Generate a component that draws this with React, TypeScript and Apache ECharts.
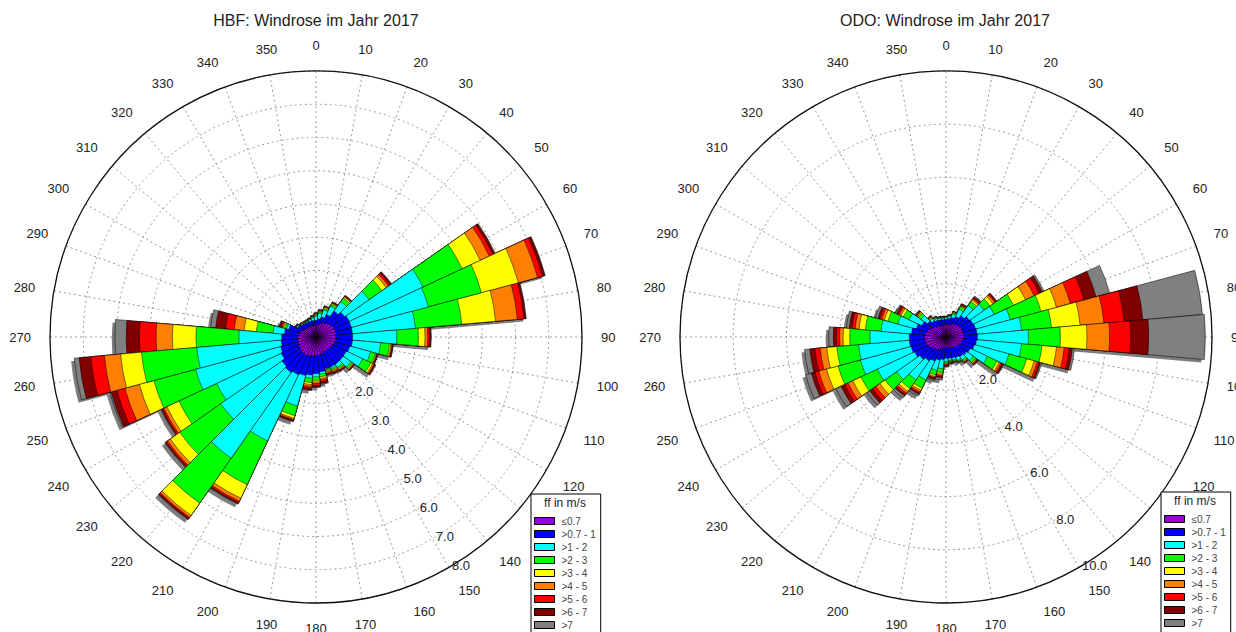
import React, { useEffect, useRef } from "react";
import * as echarts from "echarts";

// wind direction sectors (degrees)
const directions = ["0","10","20","30","40","50","60","70","80","90","100","110","120","130","140","150","160","170","180","190","200","210","220","230","240","250","260","270","280","290","300","310","320","330","340","350"];

// wind speed classes (ff in m/s)
const speedClasses = ["≤0.7", ">0.7 - 1", ">1 - 2", ">2 - 3", ">3 - 4", ">4 - 5", ">5 - 6", ">6 - 7", ">7"];

// HBF: cumulative frequency (%) per direction up to the upper bound of each speed class
const hbfUpTo07 = [0.35,0.38,0.42,0.48,0.52,0.56,0.6,0.6,0.6,0.6,0.6,0.58,0.55,0.52,0.5,0.5,0.52,0.55,0.55,0.58,0.6,0.62,0.62,0.6,0.58,0.56,0.55,0.55,0.52,0.48,0.42,0.38,0.36,0.35,0.35,0.35];
const hbfUpTo1 = [0.5,0.55,0.62,0.75,0.95,1.05,1.1,1.1,1.1,1.1,1.1,1.05,1.0,1.0,1.0,1.0,1.0,1.05,1.1,1.15,1.2,1.25,1.3,1.25,1.15,1.1,1.05,1.03,0.95,0.85,0.6,0.55,0.52,0.5,0.5,0.5];
const hbfUpTo2 = [0.62,0.72,0.84,1.02,1.3,1.95,3.55,3.5,3.0,2.43,1.95,1.7,1.55,1.28,1.12,1.05,1.02,1.12,1.2,1.25,2.15,3.45,4.45,3.5,3.3,3.75,3.6,2.32,1.3,0.92,0.63,0.57,0.54,0.53,0.55,0.58];
const hbfUpTo3 = [0.66,0.76,0.89,1.08,1.43,2.42,4.85,5.15,4.4,3.08,2.22,1.85,1.82,1.34,1.17,1.1,1.06,1.2,1.3,1.38,2.45,4.9,6.1,5.0,4.55,5.05,5.27,3.61,1.8,0.98,0.65,0.58,0.55,0.54,0.56,0.61];
const hbfUpTo4 = [0.68,0.78,0.92,1.11,1.47,2.58,5.45,6.3,5.42,3.28,2.26,1.88,1.88,1.37,1.2,1.13,1.09,1.25,1.35,1.44,2.53,5.35,6.55,5.35,4.95,5.5,5.9,4.32,2.17,1.02,0.66,0.59,0.56,0.55,0.57,0.62];
const hbfUpTo5 = [0.7,0.8,0.94,1.13,1.49,2.66,5.75,6.9,6.08,3.36,2.29,1.9,1.92,1.39,1.22,1.17,1.13,1.3,1.4,1.5,2.57,5.45,6.62,5.45,5.05,5.95,6.39,4.81,2.47,1.06,0.67,0.6,0.57,0.56,0.58,0.63];
const hbfUpTo6 = [0.71,0.81,0.95,1.15,1.51,2.72,5.87,7.05,6.28,3.41,2.31,1.92,1.95,1.41,1.25,1.2,1.17,1.36,1.46,1.56,2.6,5.5,6.66,5.5,5.1,6.2,6.8,5.31,2.73,1.1,0.68,0.61,0.58,0.57,0.59,0.64];
const hbfUpTo7 = [0.72,0.82,0.96,1.16,1.52,2.76,5.93,7.12,6.33,3.45,2.33,1.93,1.97,1.42,1.26,1.22,1.19,1.4,1.5,1.6,2.62,5.53,6.69,5.53,5.13,6.38,7.15,5.71,3.03,1.14,0.69,0.62,0.59,0.58,0.6,0.65];
const hbfAll = [0.73,0.83,0.97,1.17,1.53,2.78,5.95,7.14,6.35,3.47,2.34,1.94,1.98,1.43,1.27,1.23,1.2,1.43,1.52,1.62,2.64,5.55,6.71,5.55,5.15,6.42,7.3,6.05,3.18,1.16,0.7,0.63,0.6,0.59,0.61,0.66];

// ODO: cumulative frequency (%) per direction up to the upper bound of each speed class
const odoUpTo07 = [0.45,0.47,0.5,0.55,0.6,0.63,0.65,0.66,0.67,0.67,0.65,0.62,0.58,0.55,0.5,0.46,0.43,0.4,0.4,0.42,0.46,0.52,0.58,0.65,0.72,0.78,0.8,0.81,0.78,0.72,0.64,0.56,0.5,0.47,0.45,0.45];
const odoUpTo1 = [0.66,0.7,0.76,0.85,0.98,1.08,1.12,1.15,1.17,1.18,1.15,1.1,1.0,0.95,0.9,0.85,0.82,0.8,0.8,0.85,0.9,1.0,1.1,1.2,1.3,1.36,1.38,1.38,1.3,1.15,1.0,0.85,0.75,0.7,0.67,0.66];
const odoUpTo2 = [0.72,0.78,0.9,1.15,1.45,1.75,2.0,2.5,2.85,3.1,2.85,2.45,1.72,1.25,1.05,0.98,0.9,0.88,0.92,1.2,1.3,1.78,1.97,2.27,2.85,3.33,3.3,2.86,2.45,1.87,1.53,1.15,0.85,0.78,0.74,0.72];
const odoUpTo3 = [0.74,0.8,0.95,1.25,1.63,2.02,2.8,3.7,3.98,4.3,3.62,3.14,2.12,1.36,1.12,1.02,0.94,0.92,0.98,1.34,1.48,2.12,2.36,2.8,3.53,4.2,4.12,3.62,3.04,2.26,1.77,1.27,0.9,0.81,0.76,0.74];
const odoUpTo4 = [0.75,0.81,0.97,1.29,1.7,2.16,3.3,4.3,5.06,5.3,4.17,3.43,2.21,1.4,1.15,1.04,0.96,0.94,1.01,1.4,1.54,2.21,2.5,3.04,3.87,4.65,4.5,3.87,3.28,2.4,1.87,1.31,0.92,0.83,0.77,0.75];
const odoUpTo5 = [0.76,0.82,0.98,1.32,1.75,2.24,3.66,4.84,5.96,6.15,4.46,3.55,2.28,1.43,1.17,1.05,0.97,0.96,1.04,1.46,1.58,2.28,2.58,3.23,4.07,4.95,4.75,4.0,3.43,2.5,1.94,1.35,0.94,0.84,0.78,0.76];
const odoUpTo6 = [0.77,0.83,0.99,1.35,1.8,2.29,3.87,5.37,6.72,6.94,4.65,3.63,2.34,1.46,1.19,1.06,0.98,0.98,1.07,1.51,1.62,2.34,2.65,3.38,4.21,5.1,4.95,4.12,3.55,2.58,2.0,1.38,0.96,0.85,0.79,0.77];
const odoUpTo7 = [0.78,0.84,1.0,1.37,1.84,2.32,4.0,5.84,7.43,7.62,4.77,3.68,2.38,1.48,1.2,1.07,0.99,1.0,1.1,1.55,1.65,2.38,2.71,3.51,4.36,5.24,5.14,4.24,3.65,2.65,2.05,1.4,0.98,0.86,0.8,0.78];
const odoAll = [0.79,0.85,1.01,1.39,1.88,2.34,4.07,6.37,9.68,9.75,4.85,3.73,2.41,1.5,1.21,1.08,1.0,1.02,1.13,1.63,1.7,2.45,2.8,3.63,4.57,5.47,5.34,4.41,3.76,2.75,2.11,1.43,1.0,0.87,0.81,0.79];

const hbfTitle = "HBF: Windrose im Jahr 2017";
const odoTitle = "ODO: Windrose im Jahr 2017";
const legendTitle = "ff in m/s";

const classColors = ["#9a00d8", "#0000ff", "#00ffff", "#00ff00", "#ffff00", "#ff8000", "#ff0000", "#800000", "#808080"];
const FONT = '"Liberation Sans", Arial, Helvetica, sans-serif';

type RoseCfg = {
  base: number;
  cx: number;
  cy: number;
  radius: number;
  max: number;
  ring: number;
  labelFrom: number;
  cum: number[][];
};

function buildRose(c: RoseCfg) {
  const polar = [
    { center: [c.cx, c.cy], radius: c.radius },
    { center: [c.cx, c.cy], radius: c.radius },
    { center: [c.cx - 3, c.cy + 3], radius: c.radius },
    { center: [c.cx, c.cy], radius: c.radius },
  ];
  const angleAxis = [
    {
      polarIndex: c.base,
      type: "value",
      min: 0,
      max: 360,
      interval: 10,
      startAngle: 90,
      clockwise: true,
      axisLine: { show: true, lineStyle: { color: "#111", width: 1.3 } },
      axisTick: { show: false },
      axisLabel: {
        show: true,
        margin: 19,
        fontSize: 13,
        color: "#222",
        fontFamily: FONT,
        formatter: (v: number) => (v >= 360 ? "" : String(v)),
      },
      splitLine: { show: true, lineStyle: { color: "#9a9a9a", type: [2, 3], width: 1 } },
      z: 1,
    },
    {
      polarIndex: c.base + 1,
      type: "value",
      min: 0,
      max: 360,
      startAngle: 90 - 151,
      clockwise: true,
      show: false,
    },
    {
      polarIndex: c.base + 2,
      type: "category",
      data: directions,
      startAngle: 95,
      clockwise: true,
      show: false,
    },
    {
      polarIndex: c.base + 3,
      type: "category",
      data: directions,
      startAngle: 95,
      clockwise: true,
      show: false,
    },
  ];
  const radiusAxis = [
    {
      polarIndex: c.base,
      type: "value",
      min: 0,
      max: c.max,
      interval: c.ring,
      axisLine: { show: false },
      axisTick: { show: false },
      axisLabel: { show: false },
      splitLine: { show: true, lineStyle: { color: "#9a9a9a", type: [2, 3], width: 1 } },
      z: 1,
    },
    {
      polarIndex: c.base + 1,
      type: "value",
      min: 0,
      max: c.max,
      interval: c.ring,
      axisLine: { show: false },
      axisTick: { show: false },
      splitLine: { show: false },
      axisLabel: {
        show: true,
        fontSize: 13,
        color: "#222",
        fontFamily: FONT,
        formatter: (v: number) => (v < c.labelFrom ? "" : v.toFixed(1)),
      },
      z: 10,
    },
    { polarIndex: c.base + 2, type: "value", min: 0, max: c.max, show: false },
    { polarIndex: c.base + 3, type: "value", min: 0, max: c.max, show: false },
  ];
  const series: any[] = [
    {
      type: "bar",
      name: "shadow",
      coordinateSystem: "polar",
      polarIndex: c.base + 2,
      data: c.cum[8],
      barCategoryGap: "0%",
      itemStyle: { color: "#7c7c7c" },
      silent: true,
      z: 2,
    },
  ];
  for (let k = 8; k >= 0; k--) {
    series.push({
      type: "bar",
      name: speedClasses[k],
      coordinateSystem: "polar",
      polarIndex: c.base + 3,
      data: c.cum[k],
      barGap: "-100%",
      barCategoryGap: "0%",
      itemStyle: { color: classColors[k], borderColor: "#000", borderWidth: 0.5 },
      silent: true,
      z: 3,
    });
  }
  return { polar, angleAxis, radiusAxis, series };
}

function legendCfg(left: number, top: number) {
  return {
    data: speedClasses,
    left,
    top,
    height: 150,
    orient: "vertical",
    icon: "rect",
    itemWidth: 20,
    itemHeight: 7,
    itemGap: 1,
    padding: [21, 5, 4, 3],
    borderColor: "#000",
    borderWidth: 1,
    backgroundColor: "#fff",
    selectedMode: false,
    itemStyle: { borderColor: "#000", borderWidth: 1 },
    textStyle: { fontSize: 10, lineHeight: 12, color: "#444", fontFamily: FONT, padding: [0, 0, 0, 2] },
    z: 20,
  };
}

export default function App() {
  const ref = useRef<HTMLDivElement>(null);
  useEffect(() => {
    if (!ref.current) return;
    const chart = echarts.init(ref.current, undefined, { renderer: "svg" });
    const left = buildRose({
      base: 0,
      cx: 316,
      cy: 337,
      radius: 266,
      max: 8,
      ring: 1,
      labelFrom: 2,
      cum: [hbfUpTo07, hbfUpTo1, hbfUpTo2, hbfUpTo3, hbfUpTo4, hbfUpTo5, hbfUpTo6, hbfUpTo7, hbfAll],
    });
    const right = buildRose({
      base: 4,
      cx: 946,
      cy: 337,
      radius: 266,
      max: 10,
      ring: 2,
      labelFrom: 2,
      cum: [odoUpTo07, odoUpTo1, odoUpTo2, odoUpTo3, odoUpTo4, odoUpTo5, odoUpTo6, odoUpTo7, odoAll],
    });
    chart.setOption({
      animation: false,
      backgroundColor: "#fff",
      textStyle: { fontFamily: FONT },
      polar: [...left.polar, ...right.polar],
      angleAxis: [...left.angleAxis, ...right.angleAxis],
      radiusAxis: [...left.radiusAxis, ...right.radiusAxis],
      series: [...left.series, ...right.series],
      legend: [legendCfg(531, 494), legendCfg(1161, 492)],
      graphic: [
        { type: "text", x: 316, y: 20, z: 50, style: { text: hbfTitle, fill: "#222", font: `16px ${FONT}`, align: "center", verticalAlign: "middle" } },
        { type: "text", x: 945, y: 20, z: 50, style: { text: odoTitle, fill: "#222", font: `16px ${FONT}`, align: "center", verticalAlign: "middle" } },
        { type: "text", x: 565, y: 503, z: 50, style: { text: legendTitle, fill: "#222", font: `12px ${FONT}`, align: "center", verticalAlign: "middle" } },
        { type: "text", x: 1195, y: 501, z: 50, style: { text: legendTitle, fill: "#222", font: `12px ${FONT}`, align: "center", verticalAlign: "middle" } },
      ],
    });
    return () => chart.dispose();
  }, []);
  return <div ref={ref} style={{ position: "absolute", left: 0, top: 0, width: 1236, height: 632 }} />;
}
